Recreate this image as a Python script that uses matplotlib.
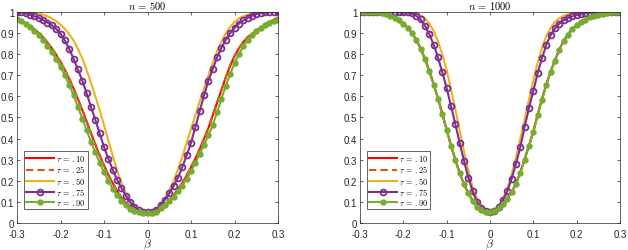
import numpy as np
import matplotlib
matplotlib.use("Agg")
from matplotlib import pyplot as plt

plt.rcParams['font.family'] = ['Liberation Sans', 'DejaVu Sans']
plt.rcParams['mathtext.fontset'] = 'cm'

beta = np.round(np.arange(-30, 31) / 100, 2)

# n = 500
n500_t10 = [0.963, 0.957, 0.947, 0.934, 0.918, 0.90, 0.88, 0.855, 0.828, 0.797,
            0.763, 0.725, 0.683, 0.637, 0.587, 0.535, 0.48, 0.425, 0.372, 0.32,
            0.272, 0.228, 0.188, 0.152, 0.12, 0.094, 0.074, 0.06, 0.052, 0.048,
            0.047,
            0.05, 0.055, 0.065, 0.085, 0.105, 0.13, 0.16, 0.19, 0.225, 0.265,
            0.305, 0.35, 0.40, 0.45, 0.51, 0.57, 0.63, 0.69, 0.745, 0.79,
            0.828, 0.857, 0.88, 0.895, 0.91, 0.925, 0.94, 0.952, 0.963, 0.974]
n500_t25 = [0.962, 0.956, 0.946, 0.933, 0.917, 0.899, 0.879, 0.855, 0.829, 0.798,
            0.765, 0.727, 0.685, 0.639, 0.589, 0.537, 0.482, 0.427, 0.374, 0.322,
            0.274, 0.229, 0.189, 0.153, 0.121, 0.095, 0.075, 0.061, 0.053, 0.049,
            0.048,
            0.05, 0.056, 0.066, 0.086, 0.106, 0.131, 0.161, 0.191, 0.226, 0.266,
            0.306, 0.351, 0.401, 0.452, 0.512, 0.572, 0.632, 0.691, 0.746, 0.791,
            0.829, 0.858, 0.881, 0.896, 0.911, 0.926, 0.941, 0.953, 0.963, 0.973]
n500_t50 = [1.0, 1.0, 0.999, 0.997, 0.995, 0.992, 0.987, 0.98, 0.97, 0.957,
            0.94, 0.92, 0.895, 0.865, 0.825, 0.78, 0.725, 0.665, 0.60, 0.535,
            0.465, 0.39, 0.32, 0.25, 0.19, 0.14, 0.10, 0.075, 0.06, 0.052,
            0.05,
            0.053, 0.065, 0.085, 0.115, 0.155, 0.20, 0.255, 0.315, 0.38, 0.445,
            0.51, 0.575, 0.64, 0.70, 0.76, 0.815, 0.86, 0.90, 0.93, 0.952,
            0.97, 0.98, 0.987, 0.992, 0.995, 0.997, 0.999, 1.0, 1.0, 1.0]
n500_t75 = [1.0, 0.998, 0.993, 0.987, 0.98, 0.972, 0.962, 0.95, 0.937, 0.92,
            0.898, 0.865, 0.825, 0.778, 0.728, 0.675, 0.615, 0.55, 0.49, 0.425,
            0.36, 0.305, 0.253, 0.205, 0.165, 0.13, 0.10, 0.076, 0.061, 0.053,
            0.05,
            0.052, 0.062, 0.085, 0.11, 0.14, 0.175, 0.215, 0.265, 0.32, 0.38,
            0.455, 0.53, 0.605, 0.675, 0.73, 0.785, 0.83, 0.868, 0.90, 0.925,
            0.945, 0.96, 0.972, 0.982, 0.99, 0.995, 0.998, 1.0, 1.0, 1.0]
n500_t90 = [0.965, 0.955, 0.942, 0.927, 0.91, 0.89, 0.867, 0.84, 0.81, 0.775,
            0.74, 0.70, 0.655, 0.605, 0.55, 0.495, 0.44, 0.385, 0.335, 0.285,
            0.24, 0.20, 0.163, 0.132, 0.105, 0.084, 0.068, 0.057, 0.051, 0.048,
            0.047,
            0.048, 0.053, 0.07, 0.085, 0.102, 0.125, 0.15, 0.177, 0.21, 0.247,
            0.284, 0.327, 0.37, 0.415, 0.465, 0.525, 0.59, 0.65, 0.705, 0.757,
            0.80, 0.837, 0.867, 0.89, 0.91, 0.925, 0.938, 0.948, 0.956, 0.963]

# n = 1000
n1000_t10 = [1.0, 1.0, 1.0, 0.999, 0.998, 0.995, 0.99, 0.983, 0.973, 0.961,
             0.946, 0.927, 0.902, 0.868, 0.828, 0.778, 0.723, 0.658, 0.592, 0.518,
             0.443, 0.368, 0.302, 0.237, 0.185, 0.141, 0.106, 0.079, 0.061, 0.053,
             0.05,
             0.055, 0.071, 0.093, 0.117, 0.147, 0.187, 0.24, 0.303, 0.368, 0.434,
             0.513, 0.588, 0.657, 0.718, 0.772, 0.822, 0.864, 0.895, 0.92, 0.94,
             0.954, 0.965, 0.976, 0.983, 0.989, 0.993, 0.996, 0.998, 1.0, 1.0]
n1000_t25 = [1.0, 1.0, 1.0, 0.999, 0.998, 0.995, 0.99, 0.982, 0.972, 0.96,
             0.945, 0.926, 0.901, 0.867, 0.826, 0.776, 0.721, 0.656, 0.591, 0.517,
             0.442, 0.367, 0.301, 0.236, 0.184, 0.141, 0.106, 0.079, 0.061, 0.053,
             0.05,
             0.055, 0.071, 0.093, 0.116, 0.146, 0.186, 0.239, 0.302, 0.367, 0.432,
             0.512, 0.587, 0.656, 0.717, 0.771, 0.821, 0.863, 0.894, 0.919, 0.939,
             0.953, 0.964, 0.975, 0.982, 0.988, 0.992, 0.995, 0.998, 1.0, 1.0]
n1000_t50 = [1.0, 1.0, 1.0, 1.0, 1.0, 1.0, 1.0, 1.0, 1.0, 1.0,
             1.0, 0.999, 0.997, 0.993, 0.985, 0.97, 0.945, 0.91, 0.86, 0.80,
             0.725, 0.635, 0.54, 0.44, 0.34, 0.25, 0.17, 0.115, 0.078, 0.06,
             0.05,
             0.06, 0.082, 0.115, 0.165, 0.23, 0.31, 0.40, 0.49, 0.585, 0.675,
             0.76, 0.83, 0.885, 0.925, 0.953, 0.97, 0.982, 0.99, 0.995, 0.998,
             1.0, 1.0, 1.0, 1.0, 1.0, 1.0, 1.0, 1.0, 1.0, 1.0]
n1000_t75 = [1.0, 1.0, 1.0, 1.0, 1.0, 1.0, 1.0, 1.0, 1.0, 1.0,
             0.999, 0.998, 0.993, 0.982, 0.965, 0.935, 0.895, 0.845, 0.785, 0.715,
             0.64, 0.555, 0.47, 0.38, 0.295, 0.215, 0.15, 0.10, 0.07, 0.055,
             0.05,
             0.056, 0.077, 0.108, 0.15, 0.21, 0.28, 0.36, 0.455, 0.545, 0.625,
             0.71, 0.78, 0.845, 0.89, 0.922, 0.945, 0.96, 0.972, 0.98, 0.986,
             0.992, 0.995, 0.997, 0.999, 1.0, 1.0, 1.0, 1.0, 1.0, 1.0]
n1000_t90 = [1.0, 1.0, 1.0, 0.999, 0.998, 0.995, 0.99, 0.982, 0.972, 0.96,
             0.945, 0.925, 0.90, 0.865, 0.825, 0.775, 0.72, 0.655, 0.59, 0.515,
             0.44, 0.365, 0.30, 0.235, 0.183, 0.14, 0.105, 0.078, 0.06, 0.052,
             0.05,
             0.055, 0.07, 0.092, 0.115, 0.145, 0.185, 0.237, 0.30, 0.365, 0.43,
             0.51, 0.585, 0.655, 0.715, 0.77, 0.82, 0.862, 0.893, 0.918, 0.938,
             0.952, 0.963, 0.975, 0.982, 0.988, 0.992, 0.995, 0.998, 1.0, 1.0]

labels = [r'$\tau\,=\,.10$', r'$\tau\,=\,.25$', r'$\tau\,=\,.50$',
          r'$\tau\,=\,.75$', r'$\tau\,=\,.90$']
titles = [r'$n\,=\,500$', r'$n\,=\,1000$']
xticks = [-0.3, -0.2, -0.1, 0, 0.1, 0.2, 0.3]
xticklabels = ['-0.3', '-0.2', '-0.1', '0', '0.1', '0.2', '0.3']
yticks = [0, 0.1, 0.2, 0.3, 0.4, 0.5, 0.6, 0.7, 0.8, 0.9, 1.0]
yticklabels = ['0', '0.1', '0.2', '0.3', '0.4', '0.5', '0.6', '0.7', '0.8', '0.9', '1']

axcol = '#262626'

fig = plt.figure(figsize=(6.28, 2.51), dpi=100)
ax1 = fig.add_axes([0.0271, 0.1076, 0.4156, 0.8406])
ax2 = fig.add_axes([0.5732, 0.1076, 0.414, 0.8406])

panels = [(ax1, [n500_t10, n500_t25, n500_t50, n500_t75, n500_t90]),
          (ax2, [n1000_t10, n1000_t25, n1000_t50, n1000_t75, n1000_t90])]

for i, (ax, series) in enumerate(panels):
    ax.plot(beta, series[0], color='#FF0000', lw=1.5, label=labels[0])
    ax.plot(beta, series[1], color='#D95319', lw=1.5, ls=(0, (3.5, 2)), label=labels[1])
    ax.plot(beta, series[2], color='#EDB120', lw=1.5, label=labels[2])
    ax.plot(beta, series[3], color='#7E2F8E', lw=1.5, marker='o', ms=4.2,
            mfc='none', mew=1.3, label=labels[3])
    ax.plot(beta, series[4], color='#77AC30', lw=1.5, marker='o', ms=3.6,
            mfc='#77AC30', label=labels[4])

    ax.set_xlim(-0.3, 0.3)
    ax.set_ylim(0, 1)
    ax.set_xticks(xticks)
    ax.set_xticklabels(xticklabels)
    ax.set_yticks(yticks)
    ax.set_yticklabels(yticklabels)
    ax.tick_params(direction='in', top=True, right=True, length=2.5, width=0.5,
                   labelsize=7, colors=axcol, pad=2)
    ax.tick_params(axis='x', pad=4)
    for sp in ax.spines.values():
        sp.set_linewidth(0.5)
        sp.set_color(axcol)
    ax.set_title(titles[i], fontsize=7.5, pad=2, color='#000000')
    ax.set_xlabel(r'$\beta$', fontsize=8.5, labelpad=-1, color=axcol)

    leg = ax.legend(loc='lower left', bbox_to_anchor=(0.027, 0.066), borderaxespad=0,
                    fontsize=6, handlelength=3.3, handletextpad=0.3,
                    labelspacing=0.02, borderpad=0.25, fancybox=False, framealpha=1)
    leg.get_frame().set_linewidth(0.5)
    leg.get_frame().set_edgecolor(axcol)

fig.savefig('out.png', dpi=100)
